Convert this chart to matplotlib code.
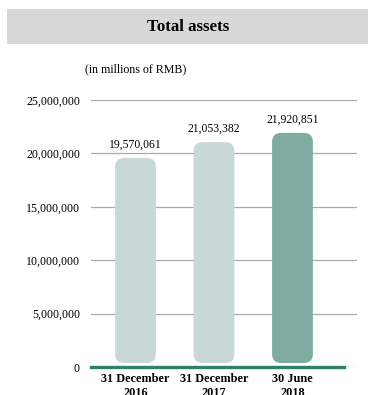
import matplotlib
matplotlib.use("Agg")
import matplotlib.pyplot as plt
from matplotlib.patches import FancyBboxPatch, Rectangle
from matplotlib.ticker import FuncFormatter

plt.rcParams["font.family"] = ["Liberation Serif", "DejaVu Serif"]

# 总资产（百万元人民币）
periods = ["31 December\n2016", "31 December\n2017", "30 June\n2018"]
total_assets = [19570061, 21053382, 21920851]
bar_colors = ["#c8d8d6", "#c8d8d6", "#80aba1"]
y_ticks = [0, 5000000, 10000000, 15000000, 20000000, 25000000]

fig = plt.figure(figsize=(3.68, 3.95), dpi=100)

# 标题灰底条
fig.patches.append(Rectangle((7 / 368, 1 - 44 / 395), 1, 35 / 395,
                             transform=fig.transFigure, facecolor="#d8d8d8",
                             edgecolor="none"))
fig.text(188 / 368, 1 - 27 / 395, "Total assets", ha="center", va="center",
         fontsize=12.2, fontweight="bold")
fig.text(85 / 368, 1 - 69 / 395, "(in millions of RMB)", ha="left", va="center",
         fontsize=8.6)

ax = fig.add_axes([91 / 368, 1 - 367 / 395, 266 / 368, 267 / 395])
x = list(range(len(periods)))
ax.set_xlim(-0.567, 2.822)
ax.set_ylim(0, 25000000)

# 先画普通柱子拿到几何尺寸，再换成圆角矩形
bars = ax.bar(x, total_assets, width=0.52, color=bar_colors, alpha=0)
px_x = 1 / 78.5
px_y = 25000000 / 267
for b, c in zip(bars, bar_colors):
    patch = FancyBboxPatch((b.get_x(), b.get_y() + 4 * px_y), b.get_width(),
                           b.get_height() - 4 * px_y,
                           boxstyle=f"round,pad=0,rounding_size={9 * px_x}",
                           mutation_aspect=px_y / px_x,
                           facecolor=c, edgecolor="none", zorder=3)
    ax.add_patch(patch)

for xi, v in zip(x, total_assets):
    ax.annotate(f"{v:,}", (xi, v), xytext=(0, 5), textcoords="offset points",
                ha="center", va="bottom", fontsize=8.4)

ax.set_yticks(y_ticks)
ax.yaxis.set_major_formatter(FuncFormatter(lambda v, _: f"{int(v):,}"))
ax.set_xticks(x)
ax.set_xticklabels(periods, fontweight="bold", linespacing=1.2)
ax.tick_params(axis="y", length=0, pad=8, labelsize=8.6)
ax.tick_params(axis="x", length=0, pad=4.5, labelsize=8.8)
ax.grid(axis="y", color="#ababab", linewidth=0.9, zorder=0)
ax.set_axisbelow(True)
for s in ax.spines.values():
    s.set_visible(False)

ax.axhline(0, xmin=0, xmax=(344 - 91) / 266, color="#2e8266", linewidth=2.4,
           zorder=4, clip_on=False)

fig.savefig("out.png", dpi=100)
